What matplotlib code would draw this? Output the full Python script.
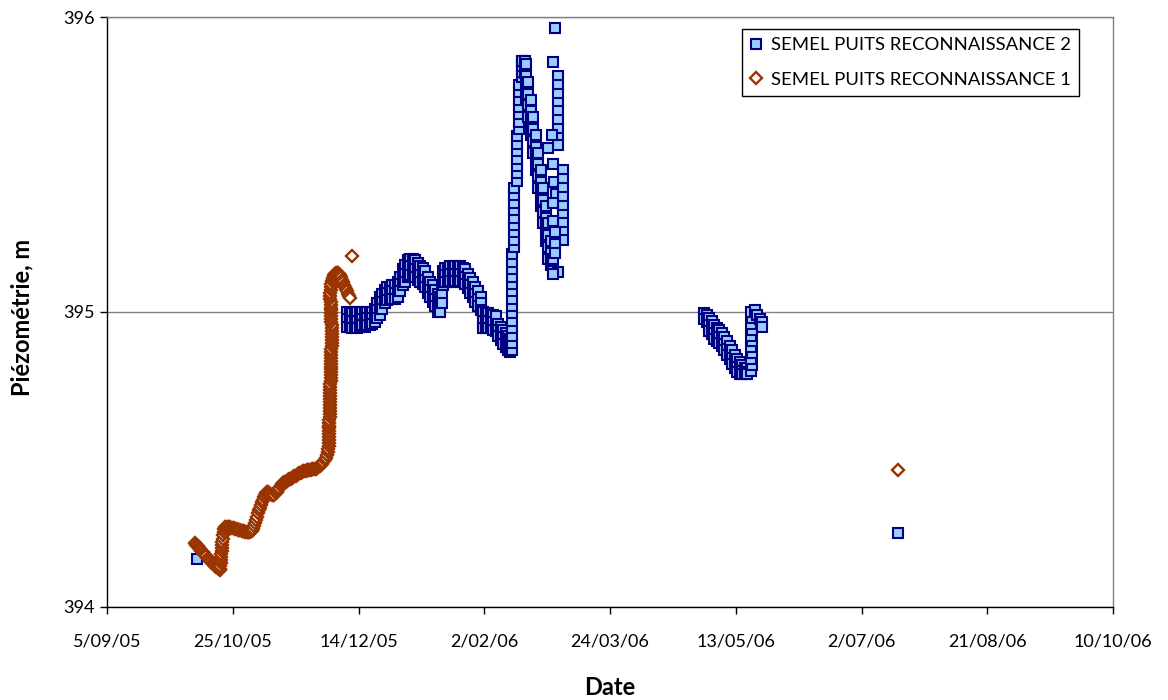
import numpy as np
import matplotlib
matplotlib.use("Agg")
import matplotlib.pyplot as plt
import matplotlib.dates as mdates

plt.rcParams['font.family'] = ['Lato', 'DejaVu Sans']

# Origin of the day counts used below
t0 = np.datetime64('2005-09-05')

# ---- SEMEL PUITS RECONNAISSANCE 1 (days after t0, water level in m) ----
pr1_day = [
    # autumn decline
    35.0, 35.5, 36, 36.5, 37, 37.5, 38, 38.5, 39, 39.5, 40, 40.5, 41, 41.5, 42, 42.5,
    43, 43.5, 44, 44.4, 44.8,
    # first recovery
    45.0, 45.1, 45.2, 45.3, 45.4, 45.5, 45.6, 45.7, 45.8, 45.9, 46.0, 46.2, 46.4, 46.6,
    47, 47.5, 48, 48.5, 49, 49.5, 50, 50.5, 51, 51.5, 52, 52.5, 53, 53.5, 54, 54.5,
    55, 55.5, 56, 56.5, 57, 57.5,
    58, 58.4, 58.8, 59.2, 59.6, 60, 60.4, 60.8, 61.2, 61.6, 62, 62.4, 62.8, 63.2, 63.6,
    64, 64.5, 65, 65.5, 66, 66.5, 67, 67.5, 68, 68.5, 69, 69.5, 70, 70.5, 71, 71.5,
    72, 72.5, 73, 73.5, 74, 74.5, 75, 75.5, 76, 76.5, 77, 77.5, 78, 78.5, 79, 79.5,
    80, 80.5, 81, 81.5, 82, 82.5, 83, 83.5, 84, 84.5, 85, 85.5, 86, 86.5, 87, 87.5,
    # sharp rise in early December
    88.0, 88.0, 88.1, 88.1, 88.2, 88.2, 88.3, 88.3, 88.3, 88.4, 88.4, 88.4, 88.5, 88.5,
    88.5, 88.6, 88.6, 88.6, 88.7, 88.7, 88.7, 88.8, 88.8, 88.8, 88.9, 88.9, 88.9, 89.0,
    89.0, 89.0, 89.1, 89.1, 89.1, 89.2, 89.2, 89.2, 89.3, 89.3, 89.3, 89.4, 89.4, 89.4,
    89.3, 89.3, 89.2, 89.2, 89.1, 89.1, 89.0, 89.0, 88.9, 88.9, 88.8, 88.8, 88.8, 88.9,
    89.0, 89.1,
    89.5, 89.7, 89.9, 90.1, 90.4, 90.7, 91.0, 91.4, 91.8, 92.2, 92.6, 93.0, 93.4, 93.8,
    94.2, 94.6, 95.0, 95.4, 95.8, 96.2, 96.6,
    97.4,
    314.5,
]
pr1_level = [
    394.215, 394.211, 394.206, 394.201, 394.196, 394.191, 394.186, 394.181, 394.176, 394.171,
    394.166, 394.161, 394.156, 394.152, 394.148, 394.144, 394.140, 394.136, 394.132, 394.128,
    394.125,
    394.130, 394.140, 394.150, 394.160, 394.170, 394.180, 394.190, 394.200, 394.210, 394.220,
    394.230, 394.245, 394.255, 394.265,
    394.270, 394.271, 394.272, 394.271, 394.270, 394.269, 394.268, 394.267, 394.265, 394.264,
    394.262, 394.261, 394.260, 394.259, 394.258, 394.257, 394.255, 394.255, 394.254, 394.254,
    394.255, 394.258,
    394.265, 394.275, 394.285, 394.296, 394.306, 394.317, 394.327, 394.337, 394.346, 394.355,
    394.364, 394.372, 394.380, 394.386, 394.390,
    394.388, 394.385, 394.382, 394.380, 394.378, 394.380, 394.385, 394.390, 394.395, 394.402,
    394.410, 394.415, 394.420, 394.423, 394.425, 394.428, 394.430, 394.433, 394.435, 394.438,
    394.440, 394.443, 394.445, 394.448, 394.450, 394.453, 394.455, 394.458, 394.460, 394.461,
    394.462, 394.463, 394.463, 394.464, 394.465, 394.466, 394.466, 394.467, 394.468, 394.471,
    394.475, 394.478, 394.482, 394.486, 394.490, 394.497, 394.505, 394.515,
    394.525, 394.535, 394.545, 394.555, 394.565, 394.575, 394.585, 394.595, 394.605, 394.615,
    394.625, 394.635, 394.645, 394.655, 394.665, 394.675, 394.685, 394.695, 394.705, 394.715,
    394.725, 394.735, 394.745, 394.755, 394.765, 394.775, 394.785, 394.795, 394.805, 394.815,
    394.825, 394.835, 394.845, 394.855, 394.865, 394.875, 394.885, 394.895, 394.905, 394.915,
    394.925, 394.935, 394.945, 394.955, 394.965, 394.975, 394.985, 394.995, 395.005, 395.015,
    395.025, 395.035, 395.045, 395.055, 395.065, 395.075, 395.085, 395.095,
    395.105, 395.110, 395.115, 395.120, 395.125, 395.130, 395.132, 395.133, 395.132, 395.130,
    395.125, 395.118, 395.110, 395.100, 395.092, 395.085, 395.078, 395.070, 395.062, 395.055,
    395.048,
    395.190,
    394.464,
]

# ---- SEMEL PUITS RECONNAISSANCE 2 (days after t0, water level in m) ----
pr2_day = [
    35.8,
    95.5, 95.5, 95.5, 96.5, 96.5, 96.5, 97.5, 97.5, 97.5, 98.5, 98.5, 98.5,
    99.5, 99.5, 99.5, 100.5, 100.5, 100.5, 101.5, 101.5, 101.5, 102.5, 102.5, 102.5,
    103.5, 103.5, 103.5, 104.5, 104.5, 104.5, 105.5, 105.5, 105.5, 106.5, 106.5, 106.5,
    107.5, 107.5, 107.5, 108.5, 108.5, 108.5, 109.5, 109.5, 109.5, 110.5, 110.5, 110.5,
    111.5, 111.5, 111.5, 112.5, 112.5, 112.5, 113.5, 113.5, 113.5, 114.5, 114.5, 114.5,
    115.5, 115.5, 115.5, 116.5, 116.5, 116.5, 117.5, 117.5, 117.5, 118.5, 118.5, 118.5,
    119.5, 119.5, 119.5, 120.5, 120.5, 120.5, 121.5, 121.5, 121.5, 122.5, 122.5, 122.5,
    123.5, 123.5, 123.5, 124.5, 124.5, 124.5, 125.5, 125.5, 125.5, 126.5, 126.5, 126.5,
    127.5, 127.5, 127.5, 128.5, 128.5, 128.5, 129.5, 129.5, 129.5, 130.5, 130.5, 130.5,
    131.5, 131.5, 131.5, 132.5, 132.5, 132.5, 133.0, 133.0, 133.0, 133.5, 133.5, 133.5,
    134.5, 134.5, 134.5, 135.5, 135.5, 135.5, 136.5, 136.5, 136.5, 137.5, 137.5, 137.5,
    138.5, 138.5, 138.5, 139.5, 139.5, 139.5, 140.5, 140.5, 140.5, 141.5, 141.5, 141.5,
    142.5, 142.5, 142.5, 143.5, 143.5, 143.5, 144.5, 144.5, 144.5, 145.5, 145.5, 145.5,
    146.5, 146.5, 146.5, 147.5, 147.5, 147.5, 148.5, 148.5, 148.5, 149.5, 149.5, 149.5,
    150.5, 150.5, 150.5, 151.5, 151.5, 151.5, 152.5, 152.5, 152.5, 153.5, 153.5, 153.5,
    154.5, 154.5, 154.5, 155.5, 155.5, 155.5, 156.5, 156.5, 156.5, 157.5, 157.5, 157.5,
    158.5, 158.5, 158.5, 159.5, 159.5, 159.5, 160.3, 160.3, 160.3,
    # steep rise
    161.0, 161.0, 161.0, 161.0, 161.0, 161.0, 161.0, 161.0, 161.0, 161.0, 161.0, 161.0, 161.0, 161.0,
    162.0, 162.0, 162.0, 162.0, 162.0, 162.0, 162.0, 162.0, 162.0,
    163.0, 163.0, 163.0, 163.0, 163.0, 163.0, 163.0,
    164.0, 164.0, 164.0, 164.0, 164.0, 164.0, 164.0,
    165.0, 165.0, 165.0, 165.0, 165.0,
    166.0, 166.0, 166.0,
    # recession
    166.5, 166.5, 166.5, 166.5, 167.5, 167.5, 167.5, 167.5, 168.5, 168.5, 168.5, 168.5,
    169.5, 169.5, 169.5, 169.5, 170.5, 170.5, 170.5, 170.5, 171.5, 171.5, 171.5, 171.5,
    172.5, 172.5, 172.5, 172.5, 173.5, 173.5, 173.5, 173.5, 174.5, 174.5, 174.5, 174.5,
    175.5, 175.5, 175.5, 175.5, 176.5, 176.5, 176.5, 177.5, 177.5,
    # scattered readings
    178.1, 177.3,
    179.3, 179.3, 179.3, 179.3, 179.3, 179.3, 179.3, 179.3, 179.3,
    177.1, 175.3, 177.3, 177.6, 178.5,
    181.3, 181.3, 181.3, 181.3, 181.3, 181.3, 181.3, 181.3, 181.3,
    177.3, 177.3, 178.1, 178.1, 178.1, 179.3, 177.3,
    # spring 2006
    237.5, 237.5, 238.5, 238.5, 239.5, 239.5, 239.5, 240.5, 240.5, 240.5,
    241.5, 241.5, 241.5, 242.5, 242.5, 242.5, 243.5, 243.5, 243.5, 244.5, 244.5, 244.5,
    245.5, 245.5, 245.5, 246.5, 246.5, 246.5, 247.5, 247.5, 247.5, 248.5, 248.5, 248.5,
    249.5, 249.5, 249.5, 250.5, 250.5, 250.5, 251.5, 251.5, 251.5, 252.5, 252.5, 252.5,
    253.5, 253.5, 253.5, 254.5, 254.5, 254.5,
    256.0, 256.5, 256.0, 256.5, 256.0, 256.5, 256.0, 256.5, 256.0, 256.5, 256.0,
    257.5, 258.5, 259.5, 260.3, 260.3,
    314.5,
]
pr2_level = [
    394.163,
    395.000, 394.975, 394.950, 395.000, 394.970, 394.950, 394.995, 394.970, 394.945,
    395.000, 394.975, 394.950,
    395.000, 394.970, 394.945, 394.995, 394.970, 394.950, 395.000, 394.975, 394.955,
    394.995, 394.975, 394.950,
    395.000, 394.980, 394.955, 394.995, 394.975, 394.955, 395.000, 394.980, 394.960,
    395.010, 394.985, 394.965,
    395.030, 395.005, 394.980, 395.050, 395.020, 394.990, 395.060, 395.035, 395.010,
    395.075, 395.050, 395.030,
    395.085, 395.065, 395.040, 395.085, 395.065, 395.045, 395.090, 395.070, 395.045,
    395.090, 395.065, 395.045,
    395.100, 395.075, 395.050, 395.120, 395.095, 395.070, 395.145, 395.120, 395.090,
    395.160, 395.130, 395.100,
    395.175, 395.150, 395.120, 395.180, 395.155, 395.125, 395.180, 395.150, 395.120,
    395.175, 395.145, 395.120,
    395.165, 395.135, 395.110, 395.155, 395.125, 395.100, 395.150, 395.120, 395.095,
    395.140, 395.110, 395.085,
    395.120, 395.090, 395.065, 395.100, 395.075, 395.050, 395.090, 395.060, 395.035,
    395.075, 395.045, 395.020,
    395.060, 395.030, 395.000, 395.050, 395.020, 395.000, 395.090, 395.060, 395.030,
    395.140, 395.115, 395.090,
    395.150, 395.125, 395.100, 395.150, 395.125, 395.100, 395.155, 395.130, 395.105,
    395.150, 395.125, 395.100,
    395.155, 395.130, 395.105, 395.150, 395.125, 395.100, 395.155, 395.130, 395.105,
    395.150, 395.125, 395.100,
    395.145, 395.120, 395.095, 395.130, 395.105, 395.080, 395.115, 395.090, 395.065,
    395.100, 395.075, 395.050,
    395.085, 395.060, 395.035, 395.070, 395.045, 395.020, 395.050, 395.030, 395.005,
    395.000, 394.970, 394.945,
    394.995, 394.970, 394.945, 394.995, 394.970, 394.945, 394.990, 394.965, 394.945,
    394.990, 394.965, 394.940,
    394.985, 394.960, 394.935, 394.960, 394.940, 394.920, 394.950, 394.925, 394.905,
    394.940, 394.915, 394.890,
    394.930, 394.905, 394.880, 394.920, 394.895, 394.870, 394.910, 394.885, 394.865,
    # steep rise
    394.870, 394.895, 394.920, 394.945, 394.970, 394.995, 395.020, 395.045, 395.070, 395.095,
    395.120, 395.145, 395.170, 395.195,
    395.220, 395.245, 395.270, 395.295, 395.320, 395.345, 395.370, 395.395, 395.420,
    395.445, 395.470, 395.495, 395.520, 395.545, 395.570, 395.595,
    395.620, 395.645, 395.670, 395.695, 395.720, 395.745, 395.770,
    395.795, 395.815, 395.835, 395.850, 395.850,
    395.850, 395.830, 395.810,
    # recession
    395.840, 395.800, 395.760, 395.720, 395.780, 395.740, 395.700, 395.660,
    395.720, 395.680, 395.640, 395.600,
    395.660, 395.620, 395.580, 395.540, 395.600, 395.560, 395.520, 395.480,
    395.540, 395.500, 395.460, 395.420,
    395.480, 395.440, 395.400, 395.360, 395.420, 395.380, 395.340, 395.300,
    395.360, 395.320, 395.280, 395.240,
    395.300, 395.260, 395.220, 395.180, 395.240, 395.200, 395.160, 395.180, 395.140,
    # scattered readings
    395.963, 395.847,
    395.800, 395.770, 395.740, 395.710, 395.680, 395.650, 395.620, 395.590, 395.565,
    395.600, 395.555, 395.500, 395.440, 395.400,
    395.480, 395.450, 395.420, 395.390, 395.360, 395.330, 395.300, 395.270, 395.245,
    395.370, 395.310, 395.270, 395.230, 395.200, 395.136, 395.130,
    # spring 2006
    394.995, 394.975, 394.990, 394.965, 394.980, 394.955, 394.935, 394.970, 394.945, 394.925,
    394.955, 394.930, 394.910, 394.945, 394.920, 394.900, 394.940, 394.915, 394.895,
    394.930, 394.905, 394.885,
    394.915, 394.890, 394.870, 394.900, 394.875, 394.855, 394.885, 394.860, 394.840,
    394.870, 394.845, 394.825,
    394.855, 394.830, 394.810, 394.840, 394.815, 394.795, 394.830, 394.805, 394.790,
    394.820, 394.800, 394.790,
    394.810, 394.795, 394.790, 394.810, 394.795, 394.790,
    394.800, 394.820, 394.840, 394.860, 394.880, 394.900, 394.920, 394.940, 394.960,
    394.980, 395.000,
    395.005, 394.990, 394.975, 394.965, 394.950,
    394.251,
]

series_names = ['SEMEL PUITS RECONNAISSANCE 2', 'SEMEL PUITS RECONNAISSANCE 1']
x_ticks_every = 50  # days between date ticks
x_first_tick = '2005-09-05'
x_last_tick = '2006-10-10'
y_range = (394, 396)


def to_dates(days):
    return t0 + (np.asarray(days) * 24 * 3600).astype('timedelta64[s]')


fig = plt.figure(figsize=(11.68, 7.0), dpi=100)
ax = fig.add_axes([0.0916, 0.133, 0.8614, 0.8427])

ax.plot(to_dates(pr2_day), pr2_level, linestyle='none', marker='s', markersize=6.6,
        markerfacecolor='#99CCFF', markeredgecolor='#000080', markeredgewidth=1.5,
        label=series_names[0], zorder=3)
ax.plot(to_dates(pr1_day), pr1_level, linestyle='none', marker='D', markersize=5.8,
        markerfacecolor='white', markeredgecolor='#993300', markeredgewidth=1.7,
        label=series_names[1], zorder=3)

start = np.datetime64(x_first_tick)
end = np.datetime64(x_last_tick)
ax.set_xlim(start, end)
ticks = np.arange(start, end + np.timedelta64(1, 'D'), np.timedelta64(x_ticks_every, 'D'))
ax.set_xticks(ticks)
ax.xaxis.set_major_formatter(plt.FuncFormatter(
    lambda v, p: (lambda d: f"{d.day}/{d.month:02d}/{d.year % 100:02d}")(mdates.num2date(v))))

ax.set_ylim(*y_range)
ax.set_yticks([394, 395, 396])
ax.yaxis.grid(True, color='#808080', linewidth=1.0)
ax.set_axisbelow(True)

for side in ['left', 'bottom']:
    ax.spines[side].set_color('black')
    ax.spines[side].set_linewidth(1.0)
for side in ['top', 'right']:
    ax.spines[side].set_color('#808080')
    ax.spines[side].set_linewidth(1.0)

ax.tick_params(axis='x', direction='out', length=5, width=1, pad=14, labelsize=13)
ax.tick_params(axis='y', direction='out', length=5, width=1, pad=4, labelsize=13)

ax.set_xlabel('Date', fontsize=17, fontweight='bold', va='center')
ax.xaxis.set_label_coords(0.5, -0.137)
ax.set_ylabel('Piézométrie, m', fontsize=17, fontweight='bold', va='center')
ax.yaxis.set_label_coords(-0.0845, 0.49)

leg = ax.legend(loc='upper right', bbox_to_anchor=(0.966, 0.98), fontsize=13.3,
                frameon=True, fancybox=False, edgecolor='black', framealpha=1,
                handlelength=0.6, handletextpad=0.5, borderpad=0.45, labelspacing=1.0,
                borderaxespad=0.0, markerscale=1.0)
leg.get_frame().set_linewidth(1.0)

fig.savefig('out.png', dpi=100)
